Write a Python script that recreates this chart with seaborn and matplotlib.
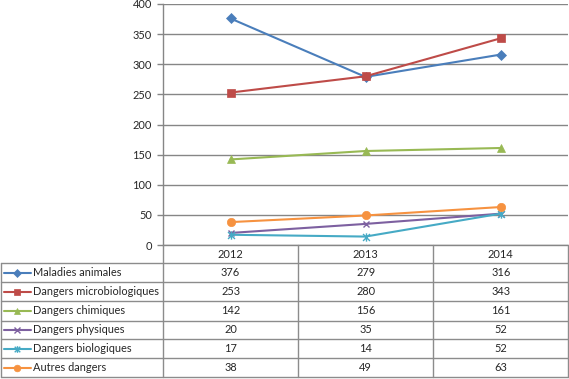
import numpy as np
import pandas as pd
import matplotlib
matplotlib.use("Agg")
import matplotlib.pyplot as plt
import seaborn as sns
from matplotlib.path import Path

years = ["2012", "2013", "2014"]
series_names = ["Maladies animales", "Dangers microbiologiques", "Dangers chimiques",
                "Dangers physiques", "Dangers biologiques", "Autres dangers"]
maladies_animales = [376, 279, 316]
dangers_microbiologiques = [253, 280, 343]
dangers_chimiques = [142, 156, 161]
dangers_physiques = [20, 35, 52]
dangers_biologiques = [17, 14, 52]
autres_dangers = [38, 49, 63]
values = [maladies_animales, dangers_microbiologiques, dangers_chimiques,
          dangers_physiques, dangers_biologiques, autres_dangers]
y_ticks = [0, 50, 100, 150, 200, 250, 300, 350, 400]

colors = ["#4a7ebb", "#be4b48", "#98b954", "#7d60a0", "#46aac5", "#f69240"]
star = Path([(-1, -1), (1, 1), (-1, 1), (1, -1), (0, -1.2), (0, 1.2)],
            [Path.MOVETO, Path.LINETO, Path.MOVETO, Path.LINETO, Path.MOVETO, Path.LINETO])
markers = ["D", "s", "^", "x", star, "o"]
msizes = [5, 6, 6, 5, 6, 6]

rows = []
for name, vals in zip(series_names, values):
    for i, (yr, v) in enumerate(zip(years, vals)):
        rows.append({"series": name, "pos": i, "year": yr, "value": v})
df = pd.DataFrame(rows)

sns.set_style("white")
plt.rcParams["font.family"] = ["Lato", "DejaVu Sans"]
FS = 7.9
plt.rcParams["font.size"] = FS

W, H = 569, 379
fig = plt.figure(figsize=(W / 100, H / 100), dpi=100)
ax = fig.add_axes([163 / W, 1 - 245 / H, 405 / W, 241 / H])

grid_c = "#868686"
for name, c, m, ms in zip(series_names, colors, markers, msizes):
    sub = df[df["series"] == name]
    sns.lineplot(data=sub, x="pos", y="value", ax=ax, color=c, linewidth=1.5,
                 marker=m, markersize=ms, markeredgecolor=c, markerfacecolor=c,
                 markeredgewidth=1.0 if m in ("x",) or m is star else 0.5, legend=False)

ax.set_xlim(-0.5, 2.5)
ax.set_ylim(0, 400)
ax.set_yticks(y_ticks)
ax.set_yticklabels([str(t) for t in y_ticks])
ax.set_xticks([])
ax.set_xlabel("")
ax.set_ylabel("")
ax.yaxis.grid(True, color=grid_c, linewidth=1)
ax.set_axisbelow(True)
for s in ["top", "right"]:
    ax.spines[s].set_visible(False)
for s in ["left", "bottom"]:
    ax.spines[s].set_color(grid_c)
    ax.spines[s].set_linewidth(1)
ax.tick_params(axis="y", direction="out", length=4, width=1, color=grid_c, pad=4,
               labelsize=FS, left=True)

# data table
tax = fig.add_axes([0, 0, 1, 1])
tax.set_xlim(0, W)
tax.set_ylim(H, 0)
tax.axis("off")
col_edges = [163, 298.3, 433.3, 568.3]
row_edges = [245, 263.3, 282.3, 301.3, 320.5, 339.3, 358.3, 377.3]
lc = "#8c8c8c"
for x in col_edges:
    tax.plot([x, x], [245, row_edges[-1]], color=lc, lw=1)
tax.plot([1, 1], [row_edges[1], row_edges[-1]], color=lc, lw=1)
for i, y in enumerate(row_edges[1:]):
    tax.plot([1, col_edges[-1]], [y, y], color=lc, lw=1)
for j, yr in enumerate(years):
    xc = (col_edges[j] + col_edges[j + 1]) / 2
    tax.text(xc, (row_edges[0] + row_edges[1]) / 2, yr, ha="center", va="center", fontsize=FS)
for i, (name, vals, c, m, ms) in enumerate(zip(series_names, values, colors, markers, msizes)):
    yc = (row_edges[i + 1] + row_edges[i + 2]) / 2
    tax.plot([4, 31], [yc, yc], color=c, lw=1.5)
    tax.plot([17.5], [yc], marker=m, markersize=ms * 0.8, color=c, markeredgecolor=c,
             markeredgewidth=1.0 if m in ("x",) or m is star else 0.5)
    tax.text(33, yc, name, ha="left", va="center", fontsize=FS)
    for j, v in enumerate(vals):
        xc = (col_edges[j] + col_edges[j + 1]) / 2
        tax.text(xc, yc, str(v), ha="center", va="center", fontsize=FS)

fig.savefig("out.png", dpi=100)
